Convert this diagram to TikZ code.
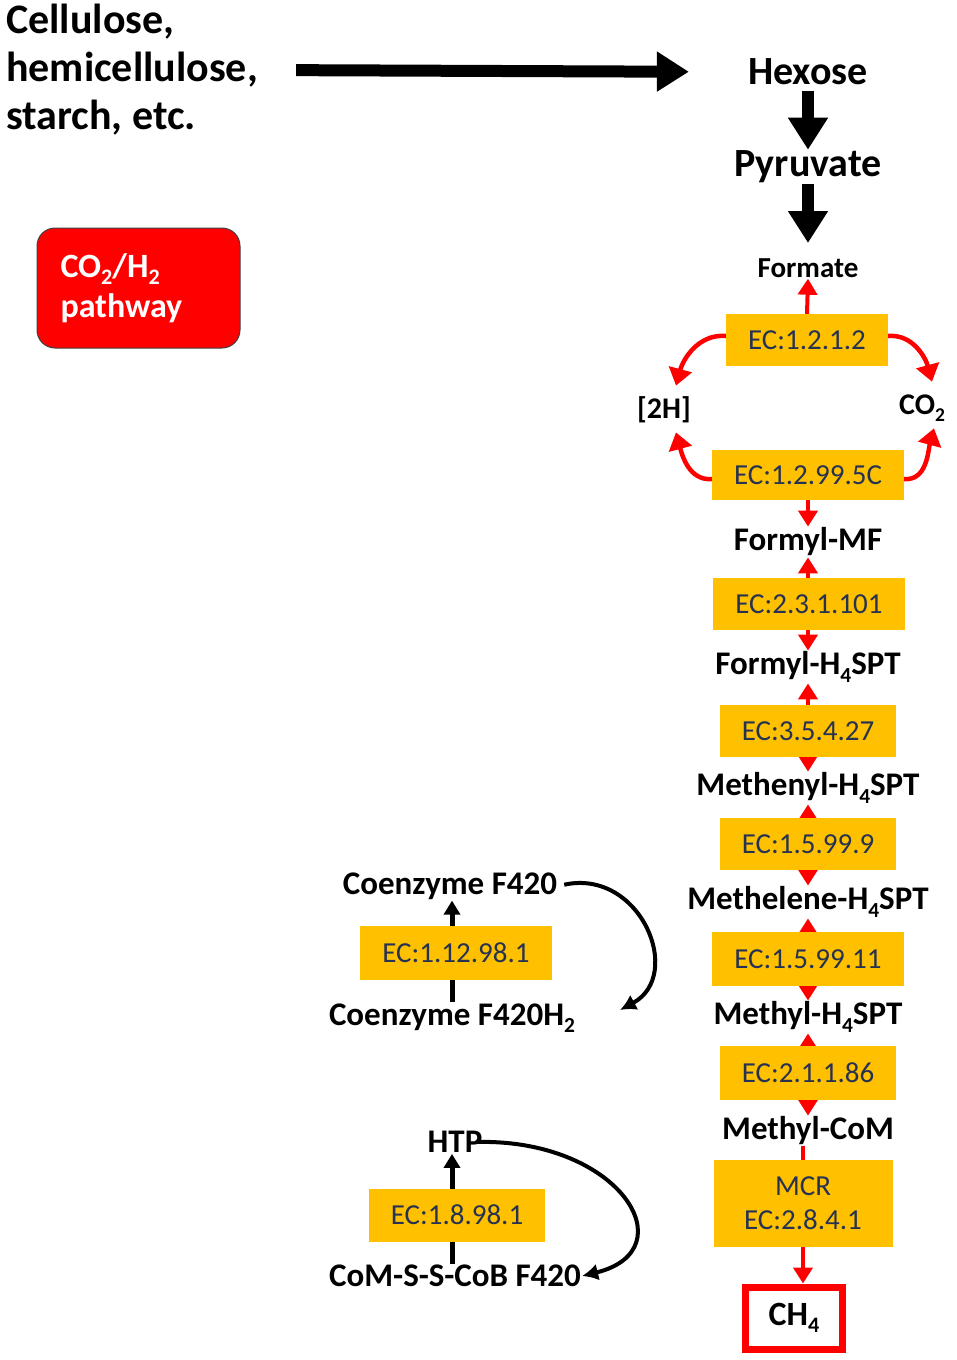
\documentclass[tikz,border=0pt]{standalone}
\usepackage{fontspec}
\setmainfont{Carlito}
\usetikzlibrary{arrows.meta,calc}
\definecolor{ecfill}{RGB}{255,192,0}
\definecolor{ectext}{RGB}{38,50,82}
\newcommand\subs[1]{\raisebox{-0.22em}{\scalebox{0.65}{#1}}}

\begin{document}
\begin{tikzpicture}[x=1pt,y=-1pt,
  cpd/.style={font=\fontsize{33}{38}\selectfont\bfseries,inner sep=1pt},
  ecbox/.style={fill=ecfill,text=ectext,font=\fontsize{29}{34}\selectfont,inner xsep=22pt,minimum height=52pt},
  redtip/.tip={Triangle[width=19pt,length=16pt]},
  redarr/.style={draw=red,line width=4pt,-redtip},
  redboth/.style={draw=red,line width=4pt,redtip-redtip},
  cyclearr/.style={draw=red,line width=4.5pt,-{Triangle[width=23pt,length=17pt]}},
  blkfat/.style={line width=12pt,-{Triangle[width=38pt,length=32pt]}},
  blkarr/.style={line width=5pt,-{Triangle[width=16pt,length=14pt]}},
  blkcurve/.style={line width=4pt,-{Latex[width=17pt,length=16pt]}}]
  \useasboundingbox (0,0) rectangle (957,1360);

  % substrates
  \node[anchor=west,align=left,inner sep=0pt,font=\fontsize{42}{48}\selectfont\bfseries] (cellulose) at (6,70) {Cellulose,\\hemicellulose,\\starch, etc.};
  \node[font=\fontsize{40}{46}\selectfont\bfseries,inner sep=1pt] (hexose) at (808,72) {Hexose};
  \node[font=\fontsize{40}{46}\selectfont\bfseries,inner sep=1pt] (pyruvate) at (808,167) {Pyruvate};
  \draw[blkfat,shorten <=38pt,shorten >=58pt] (cellulose.east) -- (hexose.west);
  \draw[blkfat,shorten <=5pt] (hexose.south) -- (pyruvate.north);
  \draw[blkfat,shorten >=12pt] (pyruvate.south) -- (pyruvate.south |- 0,255);

  \node[fill=red,draw=black!75,line width=1pt,rounded corners=18pt,text=white,align=left,
    text width=156pt,inner xsep=23.5pt,minimum height=120pt,font=\fontsize{34}{40}\selectfont\bfseries]
    (pathway) at (138.5,288) {CO\subs{2}/H\subs{2}\\pathway};

  % main chain
  \node[cpd,font=\fontsize{29}{34}\selectfont\bfseries] (formate) at (808,268) {Formate};
  \node[cpd,font=\fontsize{30}{34}\selectfont\bfseries] (twoH) at (664,410) {[2H]};
  \node[cpd,font=\fontsize{30}{34}\selectfont\bfseries] (cotwo) at (922,408) {CO\subs{2}};
  \node[cpd] (formylmf) at (808,542) {Formyl-MF};
  \node[cpd] (formylspt) at (808,667) {Formyl-H\subs{4}SPT};
  \node[cpd] (methenyl) at (808,788) {Methenyl-H\subs{4}SPT};
  \node[cpd] (methelene) at (808,902) {Methelene-H\subs{4}SPT};
  \node[cpd] (methylspt) at (808,1017) {Methyl-H\subs{4}SPT};
  \node[cpd] (methylcom) at (808,1131) {Methyl-CoM};
  \node[cpd,draw=red,line width=7pt,minimum width=97pt,minimum height=62pt,font=\fontsize{34}{38}\selectfont\bfseries] (ch4) at (794,1318) {CH\subs{4}};

  \draw[redboth] (formylmf.south) -- (formylspt.north);
  \draw[redboth] (formylspt.south) -- (methenyl.north);
  \draw[redboth] (methenyl.south) -- (methelene.north);
  \draw[redboth] (methelene.south) -- (methylspt.north);
  \draw[redboth] (methylspt.south) -- (methylcom.north);
  \draw[draw=red,line width=4pt] (methylcom.south -| 803,0) -- (803,1200);

  \node[ecbox] (ec1) at (807,340) {EC:1.2.1.2};
  \node[ecbox,minimum height=50pt] (ec2) at (808,475) {EC:1.2.99.5C};
  \node[ecbox] (ec3) at (809,604) {EC:2.3.1.101};
  \node[ecbox] (ec4) at (808,731) {EC:3.5.4.27};
  \node[ecbox] (ec5) at (808,844) {EC:1.5.99.9};
  \node[ecbox,minimum height=54pt] (ec6) at (808,959) {EC:1.5.99.11};
  \node[ecbox,minimum height=54pt] (ec7) at (808,1073) {EC:2.1.1.86};
  \node[ecbox,align=center,minimum width=179pt,minimum height=87pt] (mcr) at (803,1203) {MCR\\EC:2.8.4.1};

  \draw[redarr] (ec1.north) -- (formate.south);
  \draw[redarr] (ec2.south) -- (ec2.south |- formylmf.north);
  \draw[redarr] (mcr.south) -- (mcr.south |- ch4.north);
  \draw[cyclearr] ([yshift=4pt]ec1.west) to[out=175,in=75] ($(twoH.north)+(12,-10)$);
  \draw[cyclearr] ([yshift=4pt]ec1.east) to[out=5,in=105] ($(cotwo.north)+(10,-12)$);
  \draw[cyclearr] ([yshift=-4pt]ec2.west) to[out=185,in=-75] ($(twoH.south)+(12,8)$);
  \draw[cyclearr] ([yshift=-4pt]ec2.east) to[out=-5,in=255] ($(cotwo.south)+(12,6)$);

  % electron carriers
  \node[cpd] (f420) at (450,886) {Coenzyme F420};
  \node[cpd] (f420h2) at (452,1018) {Coenzyme F420H\subs{2}};
  \draw[blkarr] (f420h2.north -| 452,0) -- (f420.south -| 452,0);
  \node[ecbox,minimum height=54pt] (ecf) at (456,953) {EC:1.12.98.1};
  \coordinate (f420end) at (620,1010);
  \draw[blkcurve,shorten <=6pt] (f420.east) .. controls (640,868) and (685,975) .. (f420end);

  \node[cpd] (htp) at (455,1142) {HTP};
  \node[cpd] (comscob) at (455,1276) {CoM-S-S-CoB F420};
  \draw[blkarr] (comscob.north -| 452,0) -- (htp.south -| 452,0);
  \node[ecbox,minimum height=53pt] (echtp) at (457,1215) {EC:1.8.98.1};
  \draw[blkcurve] ([xshift=-8pt]htp.east) .. controls (620,1138) and (688,1250) .. (comscob.east);
\end{tikzpicture}
\end{document}
